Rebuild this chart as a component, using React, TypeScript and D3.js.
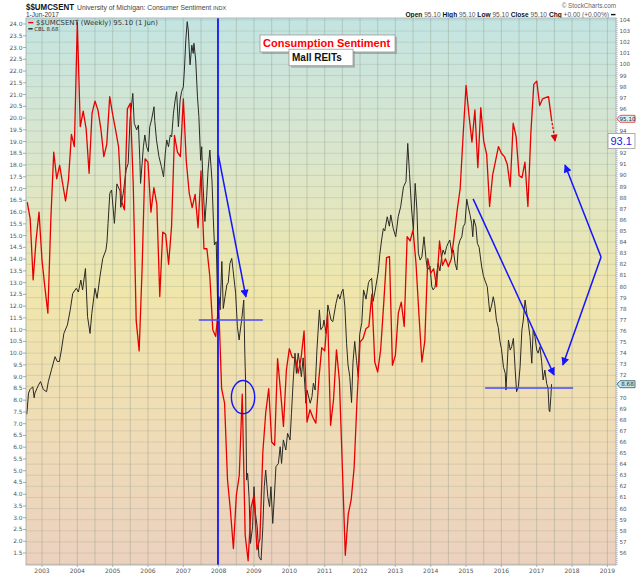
import { useEffect } from "react";
import * as d3 from "d3";

// University of Michigan consumer sentiment, monthly, Aug 2002 .. Jun 2017 (right axis)
const sentimentStart = { year: 2002, month: 8 };
const sentimentValues = [
  87.6, 86.1, 80.6, 84.2, 86.7,
  82.4, 79.9, 77.6, 86.0, 92.1, 89.7, 90.9, 89.3, 87.7, 89.6, 93.7, 92.6,
  103.8, 94.4, 95.8, 94.2, 90.2, 95.6, 96.7, 95.9, 94.2, 91.7, 92.8, 97.1,
  95.5, 94.1, 92.6, 87.7, 86.9, 96.0, 96.5, 89.1, 76.9, 74.2, 81.6, 91.5,
  91.2, 86.7, 88.9, 87.4, 79.1, 84.9, 84.7, 82.0, 85.4, 93.6, 92.1, 91.7,
  96.9, 91.3, 88.4, 87.1, 88.3, 85.3, 90.4, 83.4, 83.4, 80.9, 76.1, 75.5,
  78.4, 70.8, 69.5, 62.6, 59.8, 56.4, 61.2, 63.0, 70.3, 57.6, 55.3, 60.1,
  61.2, 56.3, 57.3, 65.1, 68.7, 70.8, 66.0, 65.7, 73.5, 70.6, 67.4, 72.5,
  74.4, 73.6, 73.6, 72.2, 73.6, 76.0, 67.8, 68.9, 68.2, 67.7, 71.6, 74.5,
  74.2, 77.5, 67.5, 69.8, 74.3, 71.5, 63.7, 55.8, 59.5, 60.8, 63.7, 69.9,
  75.0, 75.3, 76.2, 76.4, 79.3, 73.2, 72.3, 74.3, 78.3, 82.6, 82.7, 72.9,
  73.8, 77.6, 78.6, 76.4, 84.5, 84.1, 85.1, 82.1, 77.5, 73.2, 75.1, 82.5,
  81.2, 81.6, 80.0, 84.1, 81.9, 82.5, 81.8, 82.5, 84.6, 86.9, 88.8, 93.6,
  98.1, 95.4, 93.0, 95.9, 90.7, 96.1, 93.1, 91.9, 87.2, 90.0, 91.3, 92.6,
  92.0, 91.7, 91.0, 89.0, 94.7, 93.5, 90.0, 89.8, 91.2, 87.2, 93.8, 98.2,
  98.5, 96.3, 96.9, 97.0, 97.1, 95.1,
];

// CBL weekly close as [decimal year, price] (left axis)
const cblPoints: [number, number][] = [
  [2002.57, 7.4], [2002.62, 8.3], [2002.66, 8.45], [2002.74, 8.57], [2002.78, 8.1], [2002.8, 8.3],
  [2002.9, 8.64], [2002.96, 8.79], [2003.04, 8.45], [2003.13, 8.36], [2003.18, 8.79], [2003.27, 9.3],
  [2003.37, 9.85], [2003.43, 9.65], [2003.49, 9.64], [2003.55, 10.13], [2003.62, 10.84], [2003.72, 11.2],
  [2003.8, 11.84], [2003.87, 12.54], [2003.97, 12.76], [2004.03, 12.6], [2004.1, 13.11], [2004.15, 12.69],
  [2004.23, 13.6], [2004.29, 11.55], [2004.36, 10.84], [2004.41, 11.69], [2004.5, 12.76], [2004.56, 12.33],
  [2004.64, 13.25], [2004.72, 14.03], [2004.81, 14.39], [2004.84, 14.74], [2004.87, 15.52], [2004.92, 16.8],
  [2004.97, 16.94], [2005.05, 15.52], [2005.12, 17.2], [2005.21, 16.9], [2005.23, 16.2], [2005.3, 16.8],
  [2005.38, 17.79], [2005.44, 18.07], [2005.49, 19.92], [2005.57, 21.05], [2005.61, 19.78], [2005.68, 19.5],
  [2005.73, 19.7], [2005.77, 18.2], [2005.79, 17.22], [2005.87, 18.78], [2005.91, 19.28], [2005.96, 18.78],
  [2006.01, 18.57], [2006.05, 19.63], [2006.1, 19.92], [2006.17, 20.48], [2006.19, 19.9], [2006.24, 19.07],
  [2006.31, 18.36], [2006.38, 17.93], [2006.44, 17.5], [2006.49, 18.5], [2006.53, 19.07], [2006.58, 18.78],
  [2006.63, 19.28], [2006.67, 19.2], [2006.72, 20.2], [2006.77, 20.77], [2006.81, 21.12], [2006.86, 19.63],
  [2006.91, 20.77], [2006.95, 21.12], [2007.0, 21.33], [2007.03, 22.04], [2007.07, 23.32], [2007.11, 24.1],
  [2007.14, 23.74], [2007.19, 22.26], [2007.24, 23.1], [2007.28, 22.75], [2007.3, 23.18], [2007.35, 22.47],
  [2007.4, 20.9], [2007.44, 20.06], [2007.49, 18.2], [2007.52, 18.78], [2007.56, 17.08], [2007.61, 15.6],
  [2007.66, 16.65], [2007.7, 17.79], [2007.75, 18.64], [2007.81, 17.36], [2007.85, 15.66], [2007.88, 14.6],
  [2007.93, 14.74], [2007.98, 11.5], [2008.01, 12.4], [2008.04, 11.84], [2008.09, 13.9], [2008.13, 11.9],
  [2008.18, 12.4], [2008.23, 12.9], [2008.27, 13.0], [2008.32, 13.82], [2008.37, 14.03], [2008.41, 13.5],
  [2008.48, 12.55], [2008.53, 11.13], [2008.58, 10.56], [2008.6, 10.84], [2008.65, 11.41], [2008.69, 11.98],
  [2008.71, 12.26], [2008.74, 10.0], [2008.76, 8.86], [2008.79, 4.6], [2008.82, 4.89], [2008.86, 3.89],
  [2008.9, 1.91], [2008.96, 2.62], [2009.0, 4.32], [2009.04, 3.19], [2009.09, 2.62], [2009.14, 1.34],
  [2009.2, 1.2], [2009.25, 2.62], [2009.29, 4.32], [2009.33, 5.03], [2009.39, 3.9], [2009.44, 3.47],
  [2009.48, 4.32], [2009.53, 2.76], [2009.57, 3.76], [2009.62, 5.17], [2009.69, 5.31], [2009.74, 6.02],
  [2009.78, 5.31], [2009.83, 6.31], [2009.9, 5.88], [2009.95, 6.59], [2010.02, 6.31], [2010.06, 7.44],
  [2010.11, 8.86], [2010.16, 10.0], [2010.2, 9.14], [2010.25, 10.0], [2010.3, 9.5], [2010.34, 9.0],
  [2010.39, 9.8], [2010.47, 7.87], [2010.5, 8.43], [2010.59, 7.87], [2010.64, 8.15], [2010.68, 8.72],
  [2010.73, 8.43], [2010.78, 10.13], [2010.85, 11.84], [2010.89, 11.0], [2010.95, 11.13], [2010.98, 11.41],
  [2011.04, 10.84], [2011.09, 12.05], [2011.18, 11.41], [2011.23, 11.34], [2011.32, 12.12], [2011.38, 12.5],
  [2011.43, 12.3], [2011.48, 12.6], [2011.52, 12.72], [2011.57, 12.0], [2011.62, 10.4], [2011.66, 9.5],
  [2011.71, 9.0], [2011.76, 7.9], [2011.8, 9.6], [2011.85, 10.5], [2011.9, 9.7], [2011.95, 9.0],
  [2011.99, 10.8], [2012.05, 11.3], [2012.1, 12.69], [2012.17, 12.3], [2012.24, 13.0], [2012.28, 13.11],
  [2012.33, 13.18], [2012.37, 12.2], [2012.42, 12.6], [2012.52, 13.5], [2012.56, 14.2], [2012.61, 14.81],
  [2012.66, 15.3], [2012.7, 15.2], [2012.77, 15.8], [2012.83, 15.4], [2012.87, 15.88], [2012.94, 15.3],
  [2013.01, 14.95], [2013.08, 15.8], [2013.15, 16.23], [2013.23, 17.08], [2013.3, 17.29], [2013.35, 18.92],
  [2013.4, 17.64], [2013.46, 16.09], [2013.51, 15.24], [2013.56, 17.22], [2013.61, 16.09], [2013.65, 14.25],
  [2013.7, 13.96], [2013.75, 14.1], [2013.81, 14.95], [2013.87, 13.96], [2013.91, 13.54], [2013.98, 13.7],
  [2014.03, 12.83], [2014.07, 12.69], [2014.12, 12.8], [2014.17, 13.4], [2014.21, 13.82], [2014.26, 13.5],
  [2014.31, 14.1], [2014.35, 14.39], [2014.4, 14.2], [2014.45, 14.53], [2014.49, 14.67], [2014.54, 14.81],
  [2014.6, 14.25], [2014.64, 14.39], [2014.69, 13.82], [2014.74, 13.54], [2014.78, 14.53], [2014.83, 14.81],
  [2014.88, 14.95], [2014.92, 15.38], [2014.97, 15.52], [2015.02, 16.55], [2015.06, 16.23], [2015.11, 15.9],
  [2015.16, 15.5], [2015.19, 14.95], [2015.22, 15.7], [2015.28, 15.38], [2015.32, 14.67], [2015.37, 14.5],
  [2015.44, 13.7], [2015.49, 13.3], [2015.53, 13.11], [2015.6, 12.83], [2015.67, 11.75], [2015.72, 12.0],
  [2015.77, 12.4], [2015.81, 12.1], [2015.86, 11.4], [2015.91, 11.1], [2015.96, 10.5], [2016.0, 10.2],
  [2016.06, 9.4], [2016.11, 9.14], [2016.13, 8.43], [2016.2, 10.56], [2016.25, 10.13], [2016.29, 10.27],
  [2016.34, 10.63], [2016.39, 9.28], [2016.43, 8.36], [2016.48, 8.57], [2016.53, 9.43], [2016.58, 10.98],
  [2016.62, 11.41], [2016.67, 12.26], [2016.72, 11.69], [2016.76, 11.27], [2016.81, 10.7], [2016.86, 9.57],
  [2016.9, 10.98], [2016.95, 10.7], [2017.0, 10.13], [2017.04, 10.0], [2017.09, 10.27], [2017.14, 9.64],
  [2017.18, 8.86], [2017.23, 9.28], [2017.28, 8.72], [2017.32, 8.5], [2017.35, 7.58], [2017.37, 7.51],
  [2017.4, 8.15], [2017.42, 8.68],
];

const yearLabels = [
  "2003", "2004", "2005", "2006", "2007", "2008", "2009", "2010", "2011",
  "2012", "2013", "2014", "2015", "2016", "2017", "2018", "2019",
];

// hand-drawn annotations, in data units
const markerYear = 2007.98;
const trendArrows: { from: [number, number]; to: [number, number] }[] = [
  { from: [2007.99, 18.43], to: [2008.77, 12.39] },
  { from: [2015.2, 16.56], to: [2017.49, 9.07] },
  { from: [2018.82, 14.09], to: [2017.8, 18.0] },
  { from: [2018.82, 14.09], to: [2017.74, 9.5] },
];
const supportLines = [
  { value: 11.41, from: 2007.44, to: 2009.25 },
  { value: 8.52, from: 2015.54, to: 2018.03 },
];
const circleMark = { year: 2008.69, value: 8.13, rYears: 0.33, rValue: 0.71 };
const projection = { year: 2017.52, value: 93.1 };

const W = 640;
const H = 576;
const plot = { left: 26, right: 616, top: 18, bottom: 565 };

export default function App() {
  useEffect(() => {
    document.body.style.margin = "0";
  }, []);

  const x = d3.scaleLinear().domain([2002.548, 2019.243]).range([plot.left, plot.right]);
  const yL = d3.scaleLinear().domain([0.99, 24.255]).range([plot.bottom, plot.top]);
  const yR = d3.scaleLinear().domain([54.92, 104.18]).range([plot.bottom, plot.top]);

  const sentimentYear = (i: number) => sentimentStart.year + (sentimentStart.month - 1 + i) / 12;
  const sentPath = d3
    .line<number>()
    .x((_, i) => x(sentimentYear(i)))
    .y((d) => yR(d))(sentimentValues)!;
  const cblPath = d3
    .line<[number, number]>()
    .x((d) => x(d[0]))
    .y((d) => yL(d[1]))(cblPoints)!;

  const lastSent = sentimentValues[sentimentValues.length - 1];
  const lastSentX = x(sentimentYear(sentimentValues.length - 1));
  const lastCbl = cblPoints[cblPoints.length - 1][1];

  const leftTicks = d3.range(1.5, 24.01, 0.5);
  // right labels hidden under the value tags and the projection box, as on the original
  const covered = [yR(lastSent), yL(lastCbl), yR(projection.value)];
  const rightTicks = d3.range(56, 104.5, 1).filter((v) => covered.every((c) => Math.abs(yR(v) - c) > 6));
  const gridRows = d3.range(55, 104.5, 1);
  const gridCols = d3.range(2003, 2019.01, 0.5);

  const sans = "DejaVu Sans, Verdana, sans-serif";
  const arial = "Liberation Sans, Arial, sans-serif";
  const blue = "#1414ff";

  const tag = (yy: number, label: string, stroke: string, fill: string) => (
    <g>
      <path
        d={`M${plot.right + 1},${yy} L${plot.right + 4},${yy - 3.5} H${plot.right + 19} V${yy + 3.5} H${plot.right + 4} Z`}
        fill={fill}
        stroke={stroke}
        strokeWidth={0.8}
      />
      <text x={plot.right + 11.5} y={yy + 2} fontSize={5.6} fontFamily={sans} textAnchor="middle" fill="#223">
        {label}
      </text>
    </g>
  );

  const noteBox = (left: number, top: number, w: number, h: number, label: string, color: string, size: number) => (
    <g>
      <rect x={left + 2} y={top + 2} width={w} height={h} fill="#8a8a8a" opacity={0.55} />
      <rect x={left} y={top} width={w} height={h} fill="#fff" stroke="#9a9a9a" strokeWidth={0.8} />
      <text x={left + 3} y={top + h / 2 + size * 0.36} fontSize={size} fontFamily={arial} fontWeight="bold" fill={color}>
        {label}
      </text>
    </g>
  );

  return (
    <svg width={W} height={H} viewBox={`0 0 ${W} ${H}`} style={{ display: "block", background: "#fff" }}>
      <defs>
        <linearGradient id="bg" x1="0" y1="0" x2="0" y2="1">
          <stop offset="0%" stopColor="#c3e4e2" />
          <stop offset="25%" stopColor="#dae6cc" />
          <stop offset="50%" stopColor="#f0e6ab" />
          <stop offset="75%" stopColor="#efdcb6" />
          <stop offset="100%" stopColor="#ebd1bf" />
        </linearGradient>
        <marker id="headBlue" viewBox="0 0 10 10" refX="9" refY="5" markerWidth="9" markerHeight="8" markerUnits="userSpaceOnUse" orient="auto">
          <path d="M0,0 L10,5 L0,10 Z" fill={blue} />
        </marker>
        <marker id="headRed" viewBox="0 0 10 10" refX="9" refY="5" markerWidth="8" markerHeight="7" markerUnits="userSpaceOnUse" orient="auto">
          <path d="M0,0 L10,5 L0,10 Z" fill="#e00000" />
        </marker>
        <clipPath id="plotClip">
          <rect x={plot.left} y={plot.top} width={plot.right - plot.left} height={plot.bottom - plot.top} />
        </clipPath>
      </defs>

      {/* header */}
      <text x={26} y={10} fontFamily={arial} fontWeight="bold" fontSize={9} fill="#111" textLength={48} lengthAdjust="spacingAndGlyphs">
        $$UMCSENT
      </text>
      <text x={77} y={10} fontFamily={arial} fontSize={6.8} fill="#444">
        University of Michigan: Consumer Sentiment <tspan fontSize={5.5}>INDX</tspan>
      </text>
      <text x={26} y={16.8} fontFamily={arial} fontSize={6.5} fill="#333">
        1-Jun-2017
      </text>
      <text x={616} y={8} fontFamily={arial} fontSize={6.3} fill="#666" textAnchor="end">
        © StockCharts.com
      </text>
      <text x={609} y={17} fontFamily={arial} fontSize={6.6} fill="#555" textAnchor="end">
        <tspan fontWeight="bold" fill="#111">Open</tspan> 95.10 <tspan fontWeight="bold" fill="#111">High</tspan> 95.10{" "}
        <tspan fontWeight="bold" fill="#111">Low</tspan> 95.10 <tspan fontWeight="bold" fill="#111">Close</tspan> 95.10{" "}
        <tspan fontWeight="bold" fill="#111">Chg</tspan> +0.00 (+0.00%)
      </text>
      <line x1={611} x2={615.5} y1={14.6} y2={14.6} stroke="#111" strokeWidth={1.4} />

      {/* plot background and grid */}
      <rect x={plot.left} y={plot.top} width={plot.right - plot.left} height={plot.bottom - plot.top} fill="url(#bg)" />
      {gridRows.map((v) => (
        <line key={`r${v}`} x1={plot.left} x2={plot.right} y1={yR(v)} y2={yR(v)} stroke="#8f9c88" strokeOpacity={0.32} strokeWidth={0.8} />
      ))}
      {gridCols.map((t) => (
        <line key={`c${t}`} x1={x(t)} x2={x(t)} y1={plot.top} y2={plot.bottom} stroke="#8f9c88" strokeOpacity={0.45} strokeWidth={0.9} />
      ))}

      {/* series */}
      <g clipPath="url(#plotClip)">
        <path d={cblPath} fill="none" stroke="#2a2a24" strokeWidth={1} strokeLinejoin="round" />
        <path d={sentPath} fill="none" stroke="#e80000" strokeWidth={1.3} strokeLinejoin="round" />
      </g>

      {/* legend */}
      <line x1={28.3} x2={33.3} y1={22.6} y2={22.6} stroke="#e80000" strokeWidth={1.4} />
      <text x={36} y={25} fontFamily={sans} fontSize={6.9} fill="#333">
        $$UMCSENT (Weekly) 95.10 (1 Jun)
      </text>
      <line x1={28.3} x2={32.7} y1={28.8} y2={28.8} stroke="#222" strokeWidth={1.4} />
      <text x={34.3} y={31} fontFamily={sans} fontSize={5.4} fill="#333">
        CBL 8.68
      </text>

      {/* annotations */}
      <line x1={x(markerYear)} x2={x(markerYear)} y1={plot.top} y2={plot.bottom} stroke="#0000ff" strokeWidth={1.6} />
      {supportLines.map((s, i) => (
        <line key={`s${i}`} x1={x(s.from)} x2={x(s.to)} y1={yL(s.value)} y2={yL(s.value)} stroke="#4a4aff" strokeWidth={1.4} />
      ))}
      {trendArrows.map((a, i) => (
        <line
          key={`a${i}`}
          x1={x(a.from[0])}
          y1={yL(a.from[1])}
          x2={x(a.to[0])}
          y2={yL(a.to[1])}
          stroke={blue}
          strokeWidth={1.5}
          markerEnd="url(#headBlue)"
        />
      ))}
      <ellipse
        cx={x(circleMark.year)}
        cy={yL(circleMark.value)}
        rx={x(circleMark.year + circleMark.rYears) - x(circleMark.year)}
        ry={yL(circleMark.value) - yL(circleMark.value + circleMark.rValue)}
        fill="none"
        stroke={blue}
        strokeWidth={1.4}
      />
      <line
        x1={lastSentX}
        y1={yR(lastSent)}
        x2={x(projection.year)}
        y2={yR(projection.value)}
        stroke="#e80000"
        strokeWidth={1.3}
        strokeDasharray="2.5,1.5"
        markerEnd="url(#headRed)"
      />
      {noteBox(x(2009.17), yR(102.65), 135, 17, "Consumption Sentiment", "#ff0000", 11)}
      {noteBox(x(2009.99), yR(101.37), 64, 16.5, "Mall REITs", "#111", 10)}

      {/* plot frame */}
      <rect x={plot.left} y={plot.top} width={plot.right - plot.left} height={plot.bottom - plot.top} fill="none" stroke="#9aa" strokeWidth={0.8} />
      <line x1={plot.right + 1} x2={plot.right + 1} y1={plot.top} y2={plot.bottom} stroke="#889" strokeWidth={0.7} strokeDasharray="1,1" />

      {/* left axis (CBL) */}
      {leftTicks.map((v) => (
        <g key={`l${v}`}>
          <line x1={plot.left - 3} x2={plot.left} y1={yL(v)} y2={yL(v)} stroke="#777" strokeWidth={0.6} />
          <text x={plot.left - 3.5} y={yL(v) + 2} fontFamily={sans} fontSize={5.9} fill="#555" textAnchor="end">
            {v.toFixed(1)}
          </text>
        </g>
      ))}

      {/* right axis (sentiment) */}
      {rightTicks.map((v) => (
        <text key={`rt${v}`} x={plot.right + 3.5} y={yR(v) + 2} fontFamily={sans} fontSize={5.6} fill="#555">
          {v}
        </text>
      ))}
      {tag(yR(lastSent), lastSent.toFixed(2), "#e03030", "#d8f0ee")}
      {tag(yL(lastCbl), lastCbl.toFixed(2), "#2a5a66", "#c6e4ec")}

      {/* projected value box */}
      <g>
        <rect x={plot.right - 8} y={yR(projection.value) - 7.5} width={27} height={15} fill="#fff" stroke="#9a9a9a" strokeWidth={0.8} />
        <text x={plot.right - 5.5} y={yR(projection.value) + 4} fontFamily={arial} fontSize={11} fill="#2020e0">
          93.1
        </text>
      </g>

      {/* x axis */}
      {yearLabels.map((lbl) => (
        <g key={lbl}>
          <line x1={x(+lbl)} x2={x(+lbl)} y1={plot.bottom} y2={plot.bottom + 2} stroke="#888" strokeWidth={0.6} />
          <text x={x(+lbl)} y={573} fontFamily={sans} fontSize={6} fill="#555" textAnchor="middle">
            {lbl}
          </text>
        </g>
      ))}
    </svg>
  );
}
